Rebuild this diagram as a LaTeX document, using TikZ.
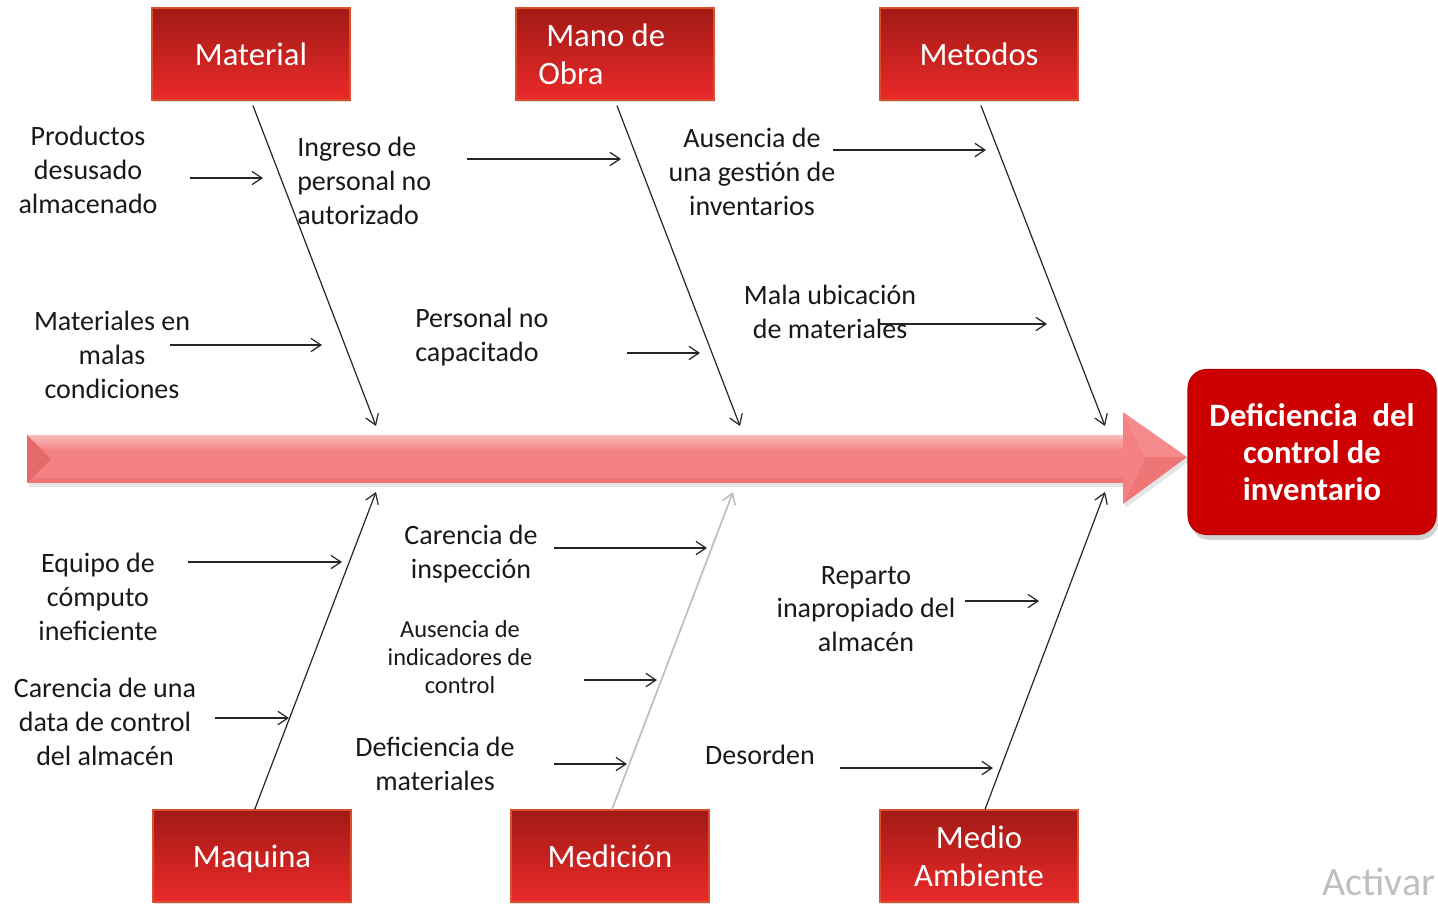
\documentclass[tikz,border=0pt]{standalone}
\usepackage{fontspec}
\setmainfont{Carlito}
\usetikzlibrary{arrows.meta,shadows}
\definecolor{cajaarriba}{HTML}{A21A15}
\definecolor{cajaabajo}{HTML}{EA2A2A}
\definecolor{cajaborde}{HTML}{D9502E}
\definecolor{rojoefecto}{HTML}{CC0000}
\definecolor{espinaclara}{HTML}{F9BDBD}
\definecolor{espinamedia}{HTML}{F48282}
\definecolor{espinaoscura}{HTML}{EE7676}
\definecolor{espinabisel}{HTML}{E46A6A}
\tikzset{
  causa/.style={rectangle, draw=cajaborde, line width=0.8pt, top color=cajaarriba, bottom color=cajaabajo,
    minimum width=148.5pt, minimum height=69pt, text=white, font=\fontsize{24.5}{28.5}\selectfont,
    drop shadow={opacity=0.25, shadow xshift=1pt, shadow yshift=-1.5pt}},
  efecto/.style={rounded corners=14pt, fill=rojoefecto, draw=rojoefecto!85!black, line width=0.8pt,
    minimum width=186pt, minimum height=123.75pt, text=white, align=center,
    font=\bfseries\fontsize{24.5}{27.75}\selectfont,
    drop shadow={opacity=0.35, shadow xshift=2pt, shadow yshift=-4pt}},
  texto/.style={align=center, inner sep=0pt, text=black!90, font=\fontsize{21}{25.3}\selectfont},
  textochico/.style={texto, font=\fontsize{18.3}{21}\selectfont},
  espina/.style={draw=black!85, line width=0.9pt, -{Straight Barb[length=7.5pt,width=10pt]}},
  flecha/.style={espina},
}
\begin{document}
\begin{tikzpicture}[x=0.75pt,y=-0.75pt]
\useasboundingbox (0,0) rectangle (1438,914);
% flecha central
\fill[black!10] (29,439) -- (1125,439) -- (1125,416) -- (1190,461) -- (1125,508) -- (1125,487) -- (29,487) -- cycle;
\fill[espinamedia] (27,449) rectangle (1124,483);
\shade[top color=espinaclara, bottom color=espinamedia] (27,435) rectangle (1124,450);
\fill[espinaoscura] (27,478) rectangle (1124,483);
\fill[espinamedia!85!espinaclara] (1123,412) -- (1187,457) -- (1145,457) -- cycle;
\fill[espinaoscura] (1123,504) -- (1187,457) -- (1145,457) -- cycle;
\fill[espinamedia] (1123,412) -- (1145,457) -- (1123,504) -- cycle;
\fill[espinabisel] (27,435) -- (51,459) -- (27,483) -- cycle;
% efecto
\node[efecto] (efecto) at (1312,452) {Deficiencia\ \ del\\control de\\inventario};
% causas
\node[causa] (material) at (251,54) {Material};
\node[causa, align=left] (mano) at (615,54) {\hspace*{6pt}Mano de\hspace*{20pt}\\Obra};
\node[causa] (metodos) at (979,54) {Metodos};
\node[causa, text depth=0pt] (maquina) at (252,856) {Maquina};
\node[causa] (medicion) at (610,856) {Medición};
\node[causa, align=center] (medio) at (979,856) {Medio\\Ambiente};
% espinas
\coordinate (e1) at (376,426);
\coordinate (e2) at (740,426);
\coordinate (e3) at (1105,426);
\coordinate (e4) at (376,492);
\coordinate (e5) at (733,492);
\coordinate (e6) at (1105,492);
\draw[espina, shorten <=4pt] (material.south) -- (e1);
\draw[espina, shorten <=4pt] (mano.south) -- (e2);
\draw[espina, shorten <=4pt] (metodos.south) -- (e3);
\draw[espina] ([xshift=2pt]maquina.north) -- (e4);
\draw[espina, draw=black!25, line width=1.3pt] ([xshift=1.5pt]medicion.north) -- (e5);
\draw[espina] ([xshift=4.5pt]medio.north) -- (e6);
% subcausas
\node[texto] (productos) at (88,170) {Productos\\desusado\\almacenado};
\node[texto, align=left, anchor=west] (ingreso) at (297,181) {Ingreso de\\personal no\\autorizado};
\node[texto] (malas) at (112,355) {Materiales en\\malas\\condiciones};
\node[texto, align=left, anchor=west] (capacitado) at (415,337) {Personal no\\capacitado};
\node[texto] (gestion) at (752,172) {Ausencia de\\una gestión de\\inventarios};
\node[texto] (ubicacion) at (830,312) {Mala ubicación\\de materiales};
\node[texto] (computo) at (98,597) {Equipo de\\cómputo\\ineficiente};
\node[texto] (data) at (105,722) {Carencia de una\\data de control\\del almacén};
\node[texto] (inspeccion) at (471,554) {Carencia de\\inspección};
\node[textochico] (indicadores) at (460,657) {Ausencia de\\indicadores de\\control};
\node[texto] (deficiencia) at (435,764) {Deficiencia de\\materiales};
\node[texto] (reparto) at (866,609) {Reparto\\inapropiado del\\almacén};
\node[texto] (desorden) at (760,755) {Desorden};
\coordinate (a1) at (190,178);  \coordinate (b1) at (263,178);
\coordinate (a2) at (467,159);  \coordinate (b2) at (621,159);
\coordinate (a3) at (170,345);  \coordinate (b3) at (322,345);
\coordinate (a4) at (627,353);  \coordinate (b4) at (700,353);
\coordinate (a5) at (833,150);  \coordinate (b5) at (986,150);
\coordinate (a6) at (880,324);  \coordinate (b6) at (1047,324);
\coordinate (a7) at (188,562);  \coordinate (b7) at (342,562);
\coordinate (a8) at (215,718);  \coordinate (b8) at (289,718);
\coordinate (a9) at (554,548);  \coordinate (b9) at (707,548);
\coordinate (a10) at (584,680); \coordinate (b10) at (657,680);
\coordinate (a11) at (554,764); \coordinate (b11) at (627,764);
\coordinate (a12) at (965,601); \coordinate (b12) at (1039,601);
\coordinate (a13) at (840,768); \coordinate (b13) at (993,768);
\draw[flecha] (a1) -- (b1);
\draw[flecha] (a2) -- (b2);
\draw[flecha] (a3) -- (b3);
\draw[flecha] (a4) -- (b4);
\draw[flecha] (a5) -- (b5);
\draw[flecha] (a6) -- (b6);
\draw[flecha] (a7) -- (b7);
\draw[flecha] (a8) -- (b8);
\draw[flecha] (a9) -- (b9);
\draw[flecha] (a10) -- (b10);
\draw[flecha] (a11) -- (b11);
\draw[flecha] (a12) -- (b12);
\draw[flecha] (a13) -- (b13);
\node[anchor=west, inner sep=0pt, text=black!25, font=\fontsize{30}{36}\selectfont] (activar) at (1322,882) {Activar};
\end{tikzpicture}
\end{document}
